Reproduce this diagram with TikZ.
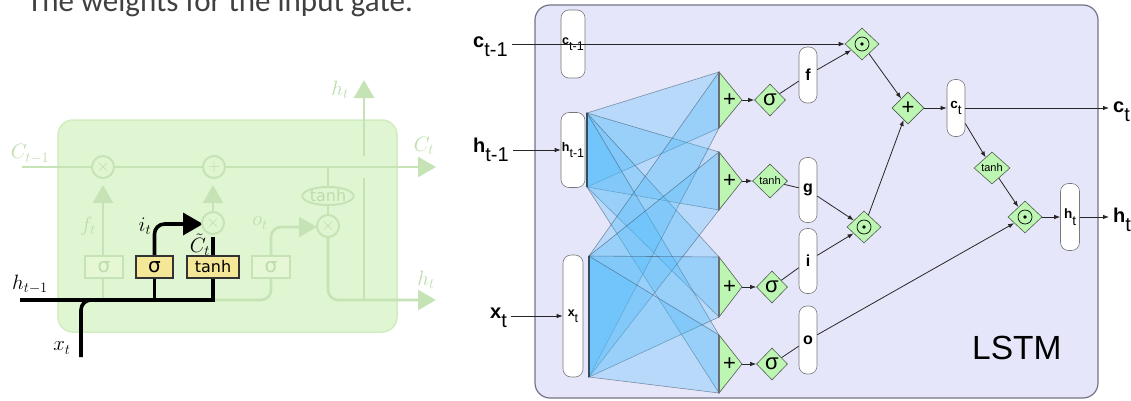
\documentclass[tikz,border=0pt]{standalone}
\usepackage[no-math]{fontspec}
\setmainfont{Liberation Sans}
\newfontfamily\titlefont{Carlito}
\newfontfamily\vera{DejaVu Sans}
\usetikzlibrary{shapes.geometric,arrows.meta,backgrounds}

\definecolor{titlegrey}{RGB}{64,64,64}
\definecolor{cellfill}{RGB}{224,246,210}
\definecolor{celledge}{RGB}{208,237,192}
\definecolor{fadeline}{RGB}{198,227,182}
\definecolor{fadetext}{RGB}{188,220,170}
\definecolor{fadebox}{RGB}{230,247,214}
\definecolor{gateyellow}{RGB}{244,231,152}
\definecolor{lstmfill}{RGB}{230,230,250}
\definecolor{lstmedge}{RGB}{115,115,135}
\definecolor{pilledge}{RGB}{120,120,120}
\definecolor{opgreen}{RGB}{188,246,178}
\definecolor{opedge}{RGB}{80,95,80}
\definecolor{meshblue}{RGB}{80,188,250}
\definecolor{meshedge}{RGB}{55,75,95}
\definecolor{gatebargrey}{RGB}{105,110,115}

% letter with a lowered index, as used in the LSTM cell labels
\newcommand{\bigsub}[2]{{\bfseries #1}\raisebox{-0.45em}{#2}}
\newcommand{\smallsub}[2]{{\bfseries #1}\raisebox{-0.5em}{#2}}
\newcommand{\pillfont}{\fontsize{12.5}{12.5}\selectfont}

\tikzset{
  fadepath/.style={draw=fadeline, line width=2.6pt},
  fadetip/.style={-{Triangle[length=18pt,width=20pt]}},
  boldpath/.style={draw=black, line width=3.6pt},
  fadecirc/.style={circle, draw=fadeline, fill=cellfill, line width=2pt,
    minimum size=22pt, inner sep=0pt, text=fadetext, font=\fontsize{17}{17}\selectfont},
  fadegate/.style={draw=fadeline, fill=fadebox, line width=1.2pt, minimum width=38pt,
    minimum height=22pt, inner sep=0pt, text=fadetext, font=\vera\fontsize{20}{20}\selectfont},
  livegate/.style={draw=black!80, fill=gateyellow, line width=1.2pt,
    minimum height=22pt, inner sep=0pt},
  fadeell/.style={ellipse, draw=fadeline, fill=cellfill, line width=2pt, minimum width=51pt,
    minimum height=18pt, inner sep=0pt, text=fadetext, font=\vera\fontsize{16}{16}\selectfont},
  lbl/.style={inner sep=0pt, font=\fontsize{20}{20}\selectfont},
  fadelbl/.style={lbl, text=fadetext},
  pill/.style={draw=pilledge, fill=white, rounded corners=8pt, line width=0.6pt, inner sep=0pt},
  oppill/.style={pill, minimum width=18pt, font=\bfseries\fontsize{16}{16}\selectfont},
  opdia/.style={diamond, draw=opedge, fill=opgreen, line width=0.6pt, inner sep=0pt},
  arr/.style={draw=black!85, line width=0.8pt, -{Latex[length=6pt,width=4.5pt]}},
  con/.style={draw=black!85, line width=0.8pt},
  meshquad/.style={fill=meshblue, fill opacity=0.3, draw=meshedge, draw opacity=0.55, line width=0.6pt},
  plustri/.style={fill=opgreen, draw=opedge, line width=0.6pt},
  gatebar/.style={draw=gatebargrey, line width=2pt},
  plussign/.style={inner sep=0pt, font=\fontsize{22}{22}\selectfont},
  extlbl/.style={anchor=base west, inner xsep=4pt, inner ysep=0pt, font=\fontsize{20}{20}\selectfont},
}

\begin{document}
\begin{tikzpicture}[x=1pt,y=-1pt]
\useasboundingbox (0,0) rectangle (1131,400);

% heading line, partly above the page
\node[anchor=base west, inner sep=0pt, text=titlegrey, font=\titlefont\fontsize{31}{36}\selectfont]
  (title) at (27,11) {The weights for the input gate.};

% ---------------- left: highlighted input gate ----------------
\begin{scope}[on background layer]
  \filldraw[fill=cellfill, draw=celledge, line width=1.5pt, rounded corners=15pt]
    (58,120) rectangle (397,332);
  \filldraw[fill=lstmfill, draw=lstmedge, line width=1.2pt, rounded corners=15pt]
    (535,5) rectangle (1098,398);
\end{scope}

\node[fadecirc] (fx) at (103,167) {$\times$};
\node[fadecirc] (cplus) at (214,167) {$+$};
\node[fadecirc] (ix) at (213,223) {$\times$};
\node[fadecirc] (ox) at (328,226) {$\times$};
\node[fadeell] (otanh) at (328,196) {tanh};
\node[fadegate] (sf) at (104,267) {σ};
\node[livegate, minimum width=37pt, font=\vera\fontsize{20}{20}\selectfont] (si) at (154.5,267) {σ};
\node[livegate, minimum width=52pt, font=\vera\fontsize{16}{16}\selectfont] (tc) at (213,267) {tanh};
\node[fadegate] (so) at (271,267) {σ};

\begin{scope}[on background layer]
  % faded paths of the rest of the cell
  \draw[fadepath, fadetip] (22,167) -- (436,167);
  \draw[fadepath, fadetip] (103,300) -- (103,185);
  \draw[fadepath, fadetip] (ix.north) -- (213,185);
  \draw[fadepath, rounded corners=10pt] (213,300) -| (so.south);
  \draw[fadepath, fadetip, rounded corners=10pt] (so.north) |- (317,227);
  \draw[fadepath] (328,167) -- (otanh.north);
  \draw[fadepath] (otanh.south) -- (ox.north);
  \draw[fadepath, fadetip, rounded corners=10pt] (ox.south) |- (436,300);
  \draw[fadepath] (364,300) -- (364,178);
  \draw[fadepath, fadetip] (364,156) -- (364,80);
  % highlighted input-gate paths
  \draw[boldpath] (20,300) -- (213,300) -- (tc.south);
  \draw[boldpath, rounded corners=10pt] (81,357) |- (110,300);
  \draw[boldpath] (154.5,300) -- (si.south);
  \draw[boldpath, -{Triangle[length=20pt,width=22pt]}, rounded corners=10pt] (si.north) |- (203,224);
  \draw[boldpath] (tc.north) -- (213,237);
\end{scope}

\node[lbl] (lhprev) at (30,284) {$h_{t-1}$};
\node[lbl] (lxt) at (62,348) {$x_t$};
\node[lbl] (lit) at (145,226) {$i_t$};
\node[lbl] (lct) at (200,245) {$\tilde{C}_t$};
\node[fadelbl] (lcprev) at (30,154) {$C_{t-1}$};
\node[fadelbl] (lft) at (88,226) {$f_t$};
\node[fadelbl] (lot) at (260,223) {$o_t$};
\node[fadelbl] (lhtop) at (340,90) {$h_t$};
\node[fadelbl] (lcout) at (424,146) {$C_t$};
\node[fadelbl] (lhout) at (426,280) {$h_t$};

% ---------------- right: LSTM cell ----------------
\coordinate (ht) at (587,113); \coordinate (hb) at (587,187);
\coordinate (xt) at (589,256); \coordinate (xb) at (589,377);
\coordinate (g1t) at (719,72);  \coordinate (g1b) at (719,128);
\coordinate (g2t) at (719,152); \coordinate (g2b) at (719,210);
\coordinate (g3t) at (719,257); \coordinate (g3b) at (719,317);
\coordinate (g4t) at (719,335); \coordinate (g4b) at (719,393);

% weight sheets from each input to each gate
\foreach \src in {h,x}
  \foreach \g in {1,...,4}
    \path[meshquad] (\src t) -- (g\g t) -- (g\g b) -- (\src b) -- cycle;
\draw[meshedge, line width=1.2pt] (ht) -- (hb);
\draw[meshedge, line width=1.2pt] (xt) -- (xb);

% input pills
\node[pill, minimum width=24pt, minimum height=68pt, font=\pillfont] (cprev) at (573,44) {\smallsub{c}{t-1}};
\node[pill, minimum width=24pt, minimum height=75pt, font=\pillfont] (hprev) at (573,150) {\smallsub{h}{t-1}};
\node[pill, minimum width=20pt, minimum height=122pt, font=\pillfont] (xin) at (573,316) {\smallsub{x}{t}};

% activations
\node[opdia, minimum width=31pt, minimum height=32pt, font=\fontsize{22}{22}\selectfont] (s1) at (770,100) {σ};
\node[opdia, minimum width=35pt, minimum height=34pt, font=\fontsize{11}{11}\selectfont] (s2) at (770,181) {tanh};
\node[opdia, minimum width=31pt, minimum height=32pt, font=\fontsize{22}{22}\selectfont] (s3) at (772,287) {σ};
\node[opdia, minimum width=31pt, minimum height=32pt, font=\fontsize{22}{22}\selectfont] (s4) at (772,364) {σ};

% gate summations
\foreach \g/\m in {1/100, 2/181, 3/287, 4/364} {
  \path[plustri] (g\g t) -- (742,\m) coordinate (p\g) -- (g\g b) -- cycle;
  \draw[gatebar] (g\g t) -- (g\g b);
  \node[plussign] (plus\g) at (729.5,\m) {+};
  \draw[arr] (p\g) -- (s\g);
}

% gate outputs
\node[oppill, minimum height=56pt] (pf) at (808,75) {f};
\node[oppill, minimum height=65pt] (pg) at (808,190) {g};
\node[oppill, minimum height=65pt] (pi) at (808,261) {i};
\node[oppill, minimum height=68pt] (po) at (808,340) {o};

% element-wise operations
\node[opdia, minimum width=34pt, minimum height=32pt] (mul1) at (862,44) {};
\node[opdia, minimum width=32pt, minimum height=32pt, font=\fontsize{22}{22}\selectfont] (add) at (908,108) {+};
\node[opdia, minimum width=34pt, minimum height=32pt] (mul2) at (864,227) {};
\node[opdia, minimum width=36pt, minimum height=32pt, font=\fontsize{11}{11}\selectfont] (tc2) at (992,168) {tanh};
\node[opdia, minimum width=34pt, minimum height=32pt] (mul3) at (1025,217) {};
\foreach \n in {mul1,mul2,mul3} {
  \draw[line width=0.7pt] (\n) circle[radius=7pt];
  \fill (\n) circle[radius=1.8pt];
}

% state pills
\node[pill, minimum width=18pt, minimum height=57pt, font=\fontsize{13.5}{13.5}\selectfont] (ctp) at (956,108) {\smallsub{c}{t}};
\node[pill, minimum width=19pt, minimum height=67pt, font=\fontsize{13.5}{13.5}\selectfont] (htp) at (1070,217) {\smallsub{h}{t}};

% external labels
\node[extlbl] (lc) at (469,47) {\bigsub{c}{t-1}};
\node[extlbl] (lh) at (469,152) {\bigsub{h}{t-1}};
\node[extlbl] (lx) at (486,318) {\bigsub{x}{t}};
\node[extlbl] (cout) at (1109,112) {\bigsub{c}{t}};
\node[extlbl] (hout) at (1109,222) {\bigsub{h}{t}};
\node[anchor=base west, inner sep=0pt, font=\fontsize{33.5}{34}\selectfont] (lstm) at (972,359) {LSTM};

% connections
\draw[arr] (lc.east |- mul1) -- (mul1.west);
\draw[arr] (lh.east |- hprev) -- (hprev.west);
\draw[arr] (lx.east |- xin) -- (xin.west);
\draw[con] (s1) -- (pf);
\draw[arr] (pf) -- (mul1);
\draw[con] (s2) -- (pg);
\draw[arr] (pg) -- (mul2);
\draw[con] (s3) -- (pi);
\draw[arr] (pi) -- (mul2);
\draw[con] (s4) -- (po);
\draw[arr] (po) -- (mul3);
\draw[arr] (mul1) -- (add);
\draw[arr] (mul2) -- (add);
\draw[arr] (add) -- (ctp);
\draw[arr] (ctp) -- (cout.west |- ctp);
\draw[arr] (ctp) -- (tc2);
\draw[arr] (tc2) -- (mul3);
\draw[arr] (mul3) -- (htp);
\draw[arr] (htp) -- (hout.west |- htp);
\end{tikzpicture}
\end{document}
